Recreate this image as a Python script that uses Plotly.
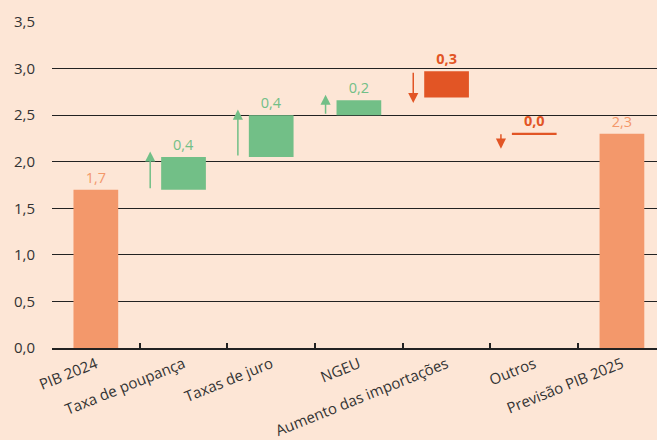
import plotly.graph_objects as go

categories = ["PIB 2024", "Taxa de poupança", "Taxas de juro", "NGEU",
              "Aumento das importações", "Outros", "Previsão PIB 2025"]
bar_base = [0.0, 1.70, 2.05, 2.50, 2.69, 2.29, 0.0]
bar_height = [1.70, 0.35, 0.45, 0.16, 0.28, 0.02, 2.30]
value_labels = ["1,7", "0,4", "0,4", "0,2", "<b>0,3</b>", "<b>0,0</b>", "2,3"]
direction = [0, 1, 1, 1, -1, -1, 0]   # +1 increase, -1 decrease, 0 total

ORANGE = "#F3986B"
GREEN = "#72BF87"
RED = "#E25525"
BG = "#FDE6D6"

bar_colors = [ORANGE if d == 0 else (GREEN if d > 0 else RED) for d in direction]

fig = go.Figure()
fig.add_trace(go.Bar(
    x=categories, y=bar_height, base=bar_base,
    marker=dict(color=bar_colors, line=dict(width=0)),
    width=0.51,
    text=value_labels, textposition="outside", textangle=0,
    textfont=dict(color=bar_colors, size=14.5, family="Open Sans"),
    cliponaxis=False, constraintext="none",
    hoverinfo="skip",
))

annotations = []
for i, d in enumerate(direction):
    if d == 0:
        continue
    if d > 0:
        start = bar_base[i]
    else:
        start = bar_base[i] + bar_height[i]
    length = max(bar_height[i] + 0.06, 0.17)
    end = start + d * length
    col = GREEN if d > 0 else RED
    annotations.append(dict(
        x=i - 0.38, y=end, ax=i - 0.38, ay=start,
        xref="x", yref="y", axref="x", ayref="y",
        text="", showarrow=True, arrowhead=2, arrowsize=1.35,
        arrowwidth=1.5, arrowcolor=col, standoff=0,
    ))

fig.update_layout(
    width=657, height=440,
    margin=dict(l=52, r=0, t=22, b=90),
    paper_bgcolor=BG, plot_bgcolor=BG,
    separators=", ",
    showlegend=False,
    font=dict(family="Open Sans", size=15, color="#333333"),
    annotations=annotations,
    bargap=0.49,
)
fig.update_xaxes(
    type="category", range=[-0.5, 6.4],
    tickson="boundaries", ticks="inside", ticklen=5, tickwidth=1.5,
    tickcolor="#222222",
    showline=True, linecolor="#222222", linewidth=1.5,
    showgrid=False, tickangle=-22,
    tickfont=dict(size=15, color="#333333"),
)
fig.update_yaxes(
    range=[0, 3.5], dtick=0.5, tick0=0, tickformat=".1f",
    showgrid=True, gridcolor="#222222", gridwidth=1.3,
    zeroline=False, showline=False, ticks="", ticklabelstandoff=16,
    tickfont=dict(size=15, color="#333333"),
)

fig.write_html("out.html")
